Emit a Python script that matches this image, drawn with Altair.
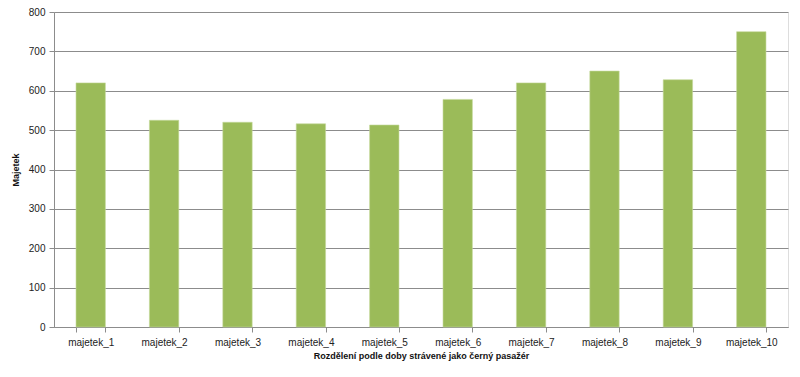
import altair as alt
import pandas as pd

categories = ["majetek_1", "majetek_2", "majetek_3", "majetek_4", "majetek_5",
              "majetek_6", "majetek_7", "majetek_8", "majetek_9", "majetek_10"]
values = [620, 525, 520, 516, 513, 578, 620, 650, 628, 750]

df = pd.DataFrame({"kat": categories, "majetek": values})

FONT = "Liberation Sans"
GRID = "#8c8c8c"

chart = alt.Chart(df).mark_bar(color="#9BBB59", stroke="#c4d89a", strokeWidth=0.6).encode(
    x=alt.X("kat:N", sort=categories,
            scale=alt.Scale(paddingInner=0.6, paddingOuter=0.3),
            axis=alt.Axis(title="Rozdělení podle doby strávené jako černý pasažér",
                          labelAngle=0, tickBand="extent", tickSize=5,
                          tickColor=GRID, domainColor=GRID, labelPadding=5,
                          labelFont=FONT, labelFontSize=10, labelColor="#222222",
                          titleFont=FONT, titleFontSize=9, titleFontWeight="bold",
                          titleColor="#111111", titlePadding=4, grid=False)),
    y=alt.Y("majetek:Q", scale=alt.Scale(domain=[0, 800], nice=False),
            axis=alt.Axis(title="Majetek", values=list(range(0, 801, 100)),
                          tickSize=5, tickColor=GRID, domainColor=GRID,
                          gridColor=GRID, gridWidth=1, labelPadding=4,
                          labelFont=FONT, labelFontSize=10, labelColor="#222222",
                          titleFont=FONT, titleFontSize=9, titleFontWeight="bold",
                          titleColor="#111111", titleX=-34))
).properties(
    width=734, height=315,
    autosize=alt.AutoSizeParams(type="none"),
    padding={"left": 46, "top": 4, "right": 4, "bottom": 42}
).configure_view(stroke=None).configure(background="white")

chart.save("out.html", embed_options={"renderer": "svg", "actions": False})
